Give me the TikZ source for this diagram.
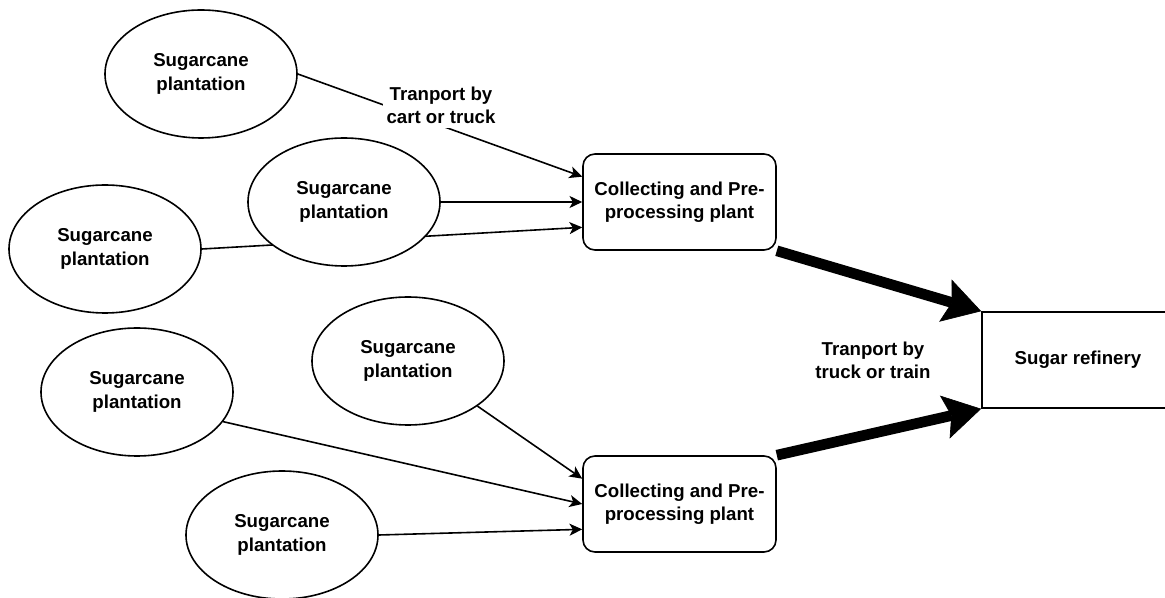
\documentclass[tikz,border=0pt]{standalone}
\usepackage{fontspec}
\setmainfont{Liberation Sans}
\usetikzlibrary{arrows.meta,backgrounds,shapes.geometric}
\begin{document}
\begin{tikzpicture}[x=0.75pt,y=-0.75pt,
  txt/.style={font=\bfseries\fontsize{14}{17.5}\selectfont},
  plant/.style={txt,ellipse,draw,line width=1.2pt,fill=white,minimum width=144pt,minimum height=96pt,inner sep=0pt,align=center},
  collect/.style={txt,rectangle,rounded corners=9pt,draw,line width=1.2pt,fill=white,minimum width=144.75pt,minimum height=72pt,align=center},
  refinery/.style={txt,rectangle,draw,line width=1.2pt,fill=white,minimum width=144pt,minimum height=72pt},
  lbl/.style={txt,fill=white,inner sep=3pt,align=center},
  flow/.style={line width=1.2pt,-{Stealth[length=9.5pt,width=9pt,inset=2.5pt]}},
  bigflow/.style={line width=8pt,-{Stealth[length=28pt,width=33pt,inset=5pt,line width=0.5pt]}}]
\useasboundingbox (0,0) rectangle (1165,598);
% nodes
\node[plant] (A) at (201,74) {Sugarcane\\plantation};
\node[plant] (B) at (344,202) {Sugarcane\\plantation};
\node[plant] (C) at (105,249) {Sugarcane\\plantation};
\node[plant] (D) at (137,392) {Sugarcane\\plantation};
\node[plant] (E) at (408,361) {Sugarcane\\plantation};
\node[plant] (F) at (282,535) {Sugarcane\\plantation};
\node[collect] (B1) at (679.5,202) {Collecting and Pre-\\processing plant};
\node[collect] (B2) at (679.5,504) {Collecting and Pre-\\processing plant};
\node[refinery] (R) at (1078,360) {Sugar refinery};
% connectors
\begin{scope}[on background layer]
\draw[flow] (A.east) -- ([yshift=19pt]B1.west);
\draw[flow] (B.east) -- (B1.west);
\draw[flow] (C.east) -- ([yshift=-19pt]B1.west);
\draw[flow] (E.-33) -- ([yshift=19pt]B2.west);
\draw[flow] (D.-19) -- (B2.west);
\draw[flow] (F.east) -- ([yshift=-19pt]B2.west);
\draw[bigflow] (B1.south east) -- (R.north west);
\draw[bigflow] (B2.north east) -- (R.south west);
\end{scope}
% labels
\node[lbl] (L1) at (441,105) {Tranport by\\cart or truck};
\node[lbl] (L2) at (873,360) {Tranport by\\truck or train};
\end{tikzpicture}
\end{document}
